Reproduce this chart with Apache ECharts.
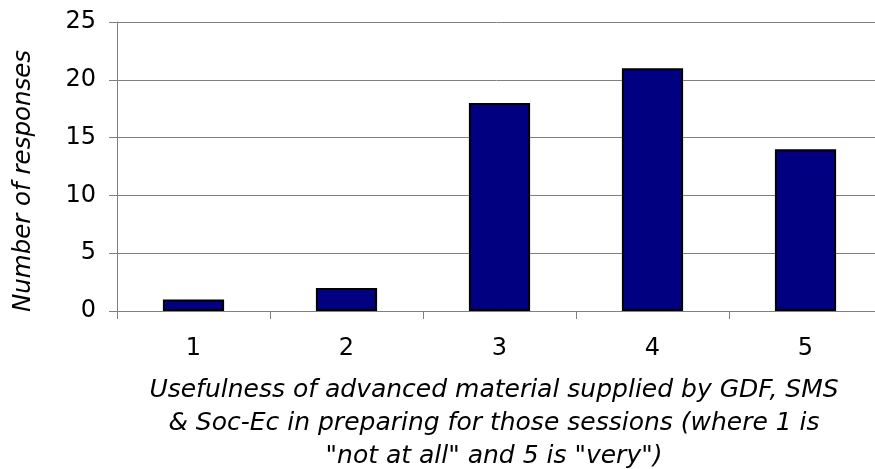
<!DOCTYPE html>
<html><head><meta charset="utf-8">
<script src="https://cdn.jsdelivr.net/npm/echarts@6/dist/echarts.min.js"></script>
<style>html,body{margin:0;padding:0;background:#fff}#c{width:875px;height:469px}</style>
</head><body><div id="c"></div>
<script>
const categories = ['1', '2', '3', '4', '5'];
const responses = [1, 2, 18, 21, 14];
const yTicks = { min: 0, max: 25, interval: 5 };
const yTitle = 'Number of responses';
const xTitle = 'Usefulness of advanced material supplied by GDF, SMS\n& Soc-Ec in preparing for those sessions (where 1 is\n"not at all" and 5 is "very")';

const font = 'DejaVu Sans';
const chart = echarts.init(document.getElementById('c'), null, { renderer: 'canvas' });
chart.setOption({
  animation: false,
  backgroundColor: '#ffffff',
  grid: { left: 117, top: 22, right: -7, bottom: 158, containLabel: false, outerBoundsMode: 'none' },
  xAxis: {
    type: 'category',
    data: categories,
    boundaryGap: true,
    axisLine: { show: true, lineStyle: { color: '#808080', width: 1 } },
    axisTick: { show: true, length: 8, alignWithLabel: false, lineStyle: { color: '#808080' } },
    axisLabel: { color: '#000', fontFamily: font, fontSize: 24, margin: 26 }
  },
  yAxis: {
    type: 'value',
    min: yTicks.min, max: yTicks.max, interval: yTicks.interval,
    axisLine: { show: true, lineStyle: { color: '#808080', width: 1 } },
    axisTick: { show: true, length: 8, lineStyle: { color: '#808080' } },
    axisLabel: { color: '#000', fontFamily: font, fontSize: 24, margin: 21 },
    splitLine: { show: true, lineStyle: { color: '#808080', width: 1 } }
  },
  graphic: [
    {
      type: 'text', x: 24, y: 181, rotation: Math.PI / 2,
      style: { text: yTitle, fill: '#000', font: 'italic 24.5px "DejaVu Sans"', align: 'center', verticalAlign: 'middle' }
    },
    {
      type: 'text', x: 494, y: 374,
      style: { text: xTitle, fill: '#000', font: 'italic 25px "DejaVu Sans"', align: 'center', verticalAlign: 'top', lineHeight: 33 }
    }
  ],
  series: [{
    type: 'bar',
    data: responses,
    barWidth: '40%',
    itemStyle: { color: '#000080', borderColor: '#000000', borderWidth: 2 }
  }]
});
</script></body></html>
